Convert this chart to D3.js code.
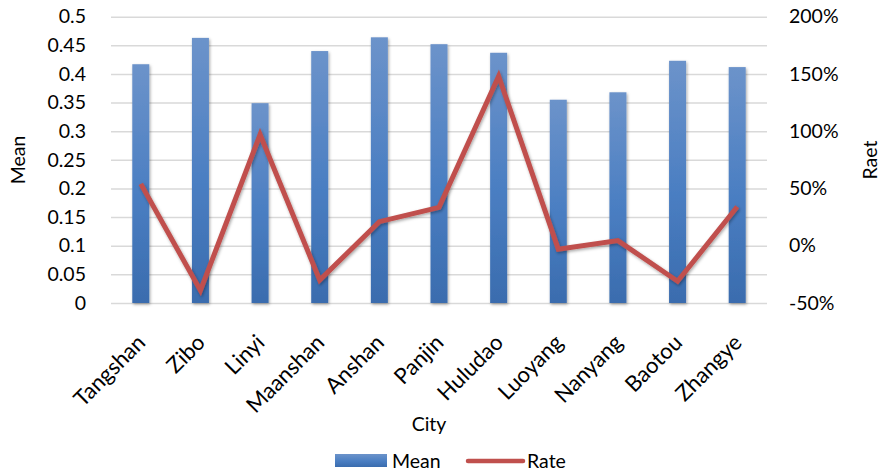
<!DOCTYPE html>
<html>
<head>
<meta charset="utf-8">
<script src="https://cdn.jsdelivr.net/npm/d3@7/dist/d3.min.js"></script>
<style>
  html, body { margin: 0; padding: 0; background: #fff; }
  svg { display: block; font-family: Lato, "Open Sans", sans-serif; }
</style>
</head>
<body>
<svg id="chart" width="888" height="475"></svg>
<script>
// City means (bars, left axis) and rate (line, right axis)
const cities = ["Tangshan", "Zibo", "Linyi", "Maanshan", "Anshan", "Panjin",
                "Huludao", "Luoyang", "Nanyang", "Baotou", "Zhangye"];
const meanValues = [0.417, 0.463, 0.349, 0.440, 0.464, 0.452, 0.437, 0.355, 0.368, 0.423, 0.412];
const rateValues = [0.54, -0.39, 0.97, -0.30, 0.21, 0.335, 1.48, -0.03, 0.045, -0.31, 0.34];
const meanTicks = [0, 0.05, 0.1, 0.15, 0.2, 0.25, 0.3, 0.35, 0.4, 0.45, 0.5];
const rateTicks = [-0.5, 0, 0.5, 1, 1.5, 2];

const svg = d3.select("#chart");
const plotLeft = 111, plotRight = 767, plotTop = 16.7, plotBottom = 303;

const x = d3.scaleBand().domain(cities).range([plotLeft, plotRight]).paddingInner(0.715).paddingOuter(0.357);
const y = d3.scaleLinear().domain([0, 0.5]).range([plotBottom, plotTop]);
const y2 = d3.scaleLinear().domain([-0.5, 2]).range([plotBottom, plotTop]);

const defs = svg.append("defs");
const grad = defs.append("linearGradient").attr("id", "barGrad")
  .attr("x1", 0).attr("y1", 0).attr("x2", 0).attr("y2", 1);
grad.append("stop").attr("offset", "0%").attr("stop-color", "#6C93CA");
grad.append("stop").attr("offset", "55%").attr("stop-color", "#4A7EC2");
grad.append("stop").attr("offset", "100%").attr("stop-color", "#3A6CAE");

const shadow = defs.append("filter").attr("id", "shadow")
  .attr("x", "-50%").attr("y", "-20%").attr("width", "200%").attr("height", "140%");
shadow.append("feDropShadow").attr("dx", 1).attr("dy", 1.5).attr("stdDeviation", 1.8)
  .attr("flood-color", "#000").attr("flood-opacity", 0.35);

// gridlines
svg.append("g").attr("class", "grid")
  .attr("transform", `translate(${plotLeft},0)`)
  .call(d3.axisLeft(y).tickValues(meanTicks).tickSize(-(plotRight - plotLeft)).tickFormat(""))
  .call(g => g.select(".domain").remove())
  .call(g => g.selectAll("line").attr("stroke", "#D9D9D9").attr("stroke-width", 1.5));

// left axis labels
svg.append("g").attr("transform", `translate(${plotLeft},0)`)
  .call(d3.axisLeft(y).tickValues(meanTicks).tickSize(0).tickPadding(25).tickFormat(d => String(d)))
  .call(g => g.select(".domain").remove())
  .call(g => g.selectAll("text").attr("font-size", 19.5).attr("fill", "#000").attr("font-family", "Lato, sans-serif"));

// right axis labels
svg.append("g").attr("transform", `translate(${plotRight},0)`)
  .call(d3.axisRight(y2).tickValues(rateTicks).tickSize(0).tickPadding(22).tickFormat(d => Math.round(d * 100) + "%"))
  .call(g => g.select(".domain").remove())
  .call(g => g.selectAll("text").attr("font-size", 19.5).attr("fill", "#000").attr("font-family", "Lato, sans-serif"));

// bars
svg.append("g").selectAll("rect").data(cities).join("rect")
  .attr("x", d => x(d))
  .attr("width", x.bandwidth())
  .attr("y", (d, i) => y(meanValues[i]))
  .attr("height", (d, i) => y(0) - y(meanValues[i]))
  .attr("fill", "url(#barGrad)")
  .attr("filter", "url(#shadow)");

// rate line
const line = d3.line()
  .x((d, i) => x(cities[i]) + x.bandwidth() / 2)
  .y(d => y2(d));
svg.append("path").datum(rateValues)
  .attr("d", line)
  .attr("fill", "none")
  .attr("stroke", "#C0504D")
  .attr("stroke-width", 5)
  .attr("stroke-linejoin", "miter")
  .attr("filter", "url(#shadow)");

// category labels rotated
svg.append("g").selectAll("text").data(cities).join("text")
  .attr("transform", d => `translate(${x(d) + x.bandwidth() / 2 + 6},${plotBottom + 41}) rotate(-45)`)
  .attr("text-anchor", "end")
  .attr("font-size", 22)
  .attr("fill", "#000")
  .text(d => d);

// axis titles
svg.append("text").attr("x", 429).attr("y", 431).attr("text-anchor", "middle")
  .attr("font-size", 19.5).text("City");
svg.append("text").attr("transform", "translate(25,160) rotate(-90)").attr("text-anchor", "middle")
  .attr("font-size", 19.5).text("Mean");
svg.append("text").attr("transform", "translate(877,160) rotate(-90)").attr("text-anchor", "middle")
  .attr("font-size", 19.5).text("Raet");

// legend
const lg = svg.append("g");
lg.append("rect").attr("x", 335).attr("y", 454).attr("width", 52).attr("height", 13).attr("fill", "url(#barGrad)");
lg.append("text").attr("x", 392).attr("y", 468).attr("font-size", 19.5).text("Mean");
lg.append("line").attr("x1", 468).attr("x2", 523).attr("y1", 461).attr("y2", 461)
  .attr("stroke", "#C0504D").attr("stroke-width", 4.5).attr("stroke-linecap", "round");
lg.append("text").attr("x", 527).attr("y", 468).attr("font-size", 19.5).text("Rate");
</script>
</body>
</html>
